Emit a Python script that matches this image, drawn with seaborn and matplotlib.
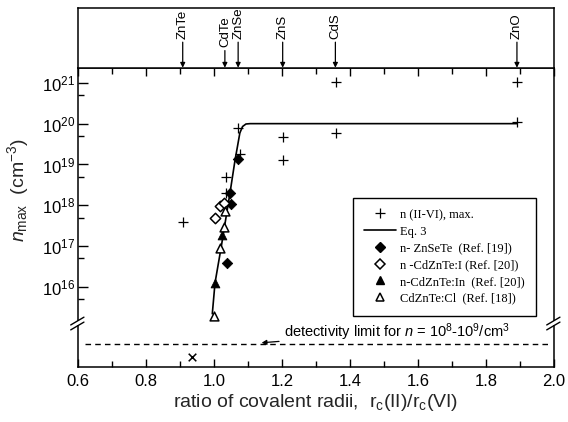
import math
import matplotlib
matplotlib.use("Agg")
import matplotlib.pyplot as plt
import seaborn as sns
from matplotlib.ticker import FixedLocator, FuncFormatter, MultipleLocator, NullFormatter
from matplotlib.lines import Line2D

# ---------------- data ----------------
compounds = ["ZnTe", "CdTe", "ZnSe", "ZnS", "CdS", "ZnO"]
compound_ratio = [0.908, 1.032, 1.071, 1.202, 1.357, 1.891]
compound_text_y = [0.48, 0.34, 0.48, 0.48, 0.48, 0.48]

plus_x = [0.909, 1.034, 1.034, 1.071, 1.076, 1.204, 1.204, 1.358, 1.358, 1.891, 1.891]
plus_n = [3.9e17, 4.9e18, 2.0e18, 7.8e19, 1.8e19, 4.8e19, 1.3e19, 1.07e21, 5.9e19, 1.07e21, 1.1e20]

eq3_x = [0.995, 1.003, 1.021, 1.047, 1.062, 1.069, 1.076, 1.084, 1.094, 1.106, 1.891]
eq3_n = [2.2e15, 1.26e16, 9.3e16, 2.0e18, 1.3e19, 2.75e19, 5.9e19, 8.5e19, 9.8e19, 1.0e20, 1.0e20]

znsete_x = [1.070, 1.047, 1.049, 1.037]
znsete_n = [1.35e19, 2.0e18, 1.07e18, 3.9e16]

cdznte_i_x = [1.017, 1.030, 1.002]
cdznte_i_n = [9.6e17, 1.15e18, 5.0e17]

cdznte_in_x = [1.023, 1.003]
cdznte_in_n = [1.9e17, 1.25e16]

cdznte_cl_x = [1.032, 1.028, 1.019, 1.001]
cdznte_cl_n = [7.2e17, 3.0e17, 9.0e16, 1.9e15]

# below the axis break (not on the log scale)
detect_x = [0.622, 1.99]
detect_level = [4.0e14, 4.0e14]
cross_x = [0.934]
cross_level = [1.95e14]

y_major = [1e16, 1e17, 1e18, 1e19, 1e20, 1e21]
y_minor = [5e15, 5e16, 5e17, 5e18, 5e19, 5e20]
x_ticks = [0.6, 0.8, 1.0, 1.2, 1.4, 1.6, 1.8, 2.0]

# ---------------- style ----------------
sns.set_theme(style="ticks")
plt.rcParams["font.family"] = ["Liberation Sans", "DejaVu Sans"]
plt.rcParams.update({
    "mathtext.fontset": "custom",
    "mathtext.rm": "Liberation Sans",
    "mathtext.it": "Liberation Sans:italic",
    "mathtext.bf": "Liberation Sans:bold",
    "axes.linewidth": 1.1,
    "axes.edgecolor": "black",
    "xtick.color": "black",
    "ytick.color": "black",
    "text.color": "black",
})

fig = plt.figure(figsize=(5.68, 4.22), dpi=100)
W, H = 568.0, 422.0
L, R, B, T = 78, 554, 367, 67.7
ax = fig.add_axes([L / W, (H - B) / H, (R - L) / W, (B - T) / H])
axt = fig.add_axes([L / W, (H - T) / H, (R - L) / W, (T - 7.7) / H], sharex=ax)

# ---------------- marks ----------------
sns.lineplot(x=eq3_x, y=eq3_n, ax=ax, color="black", lw=1.2, sort=False,
             estimator=None, label="Eq. 3", legend=False)
sns.scatterplot(x=plus_x, y=plus_n, ax=ax, marker="+", s=45, color="black",
                linewidth=0.9, label="n (II-VI), max.", legend=False, zorder=3)
sns.scatterplot(x=znsete_x, y=znsete_n, ax=ax, marker="D", s=28, color="black",
                edgecolor="black", linewidth=0.6, legend=False, zorder=4)
sns.scatterplot(x=cdznte_i_x, y=cdznte_i_n, ax=ax, marker="D", s=28, facecolor="white",
                edgecolor="black", linewidth=1.1, legend=False, zorder=4)
sns.scatterplot(x=cdznte_in_x, y=cdznte_in_n, ax=ax, marker="^", s=40, color="black",
                edgecolor="black", linewidth=0.6, legend=False, zorder=4)
sns.scatterplot(x=cdznte_cl_x, y=cdznte_cl_n, ax=ax, marker="^", s=40, facecolor="white",
                edgecolor="black", linewidth=1.1, legend=False, zorder=4)

ax.plot(detect_x, detect_level, color="black", lw=1.0, ls=(0, (4, 3)))
ax.scatter(cross_x, cross_level, marker="x", s=30, color="black", linewidth=1.1)

ax.annotate(r"detectivity limit for $n$ = 10$^8$-10$^9$/cm$^3$",
            xy=(1.14, 4.3e14), xytext=(1.205, 7.8e14), fontsize=10.5,
            ha="left", va="center",
            arrowprops=dict(arrowstyle="-|>", color="black", lw=0.9,
                            mutation_scale=7, shrinkA=1, shrinkB=0))

# ---------------- axes ----------------
ax.set_yscale("log")
ax.set_xlim(0.6, 2.0)
ax.set_ylim(10 ** 14.04, 10 ** 21.37)
ax.xaxis.set_major_locator(FixedLocator(x_ticks))
ax.xaxis.set_minor_locator(MultipleLocator(0.1))
ax.xaxis.set_major_formatter(FuncFormatter(lambda v, p: f"{v:.1f}"))
ax.yaxis.set_major_locator(FixedLocator(y_major))
ax.yaxis.set_minor_locator(FixedLocator(y_minor))
ax.yaxis.set_major_formatter(FuncFormatter(lambda v, p: r"$10^{%d}$" % round(math.log10(v))))
ax.yaxis.set_minor_formatter(NullFormatter())
ax.tick_params(axis="x", which="both", direction="in", top=True, bottom=True,
               labelsize=12, pad=5)
ax.tick_params(axis="x", which="major", length=6, width=1.0)
ax.tick_params(axis="x", which="minor", length=4, width=1.0)
ax.tick_params(axis="y", which="both", direction="in", left=True, right=False,
               labelsize=12, pad=2)
ax.tick_params(axis="y", which="major", length=7, width=1.0)
ax.tick_params(axis="y", which="minor", length=4, width=1.0)
for s in ax.spines.values():
    s.set_visible(True)
    s.set_color("black")

ax.set_xlabel(r"ratio of covalent radii,  r$_{\rm c}$(II)/r$_{\rm c}$(VI)", fontsize=14, labelpad=2)
ax.set_ylabel(r"$n_{\rm max}$  (cm$^{-3}$)", fontsize=14)
ax.yaxis.set_label_coords(-0.098, 0.59)

# axis break marks
for xb in (0.0, 1.0):
    ax.plot([xb, xb], [0.139, 0.1536], transform=ax.transAxes, color="white",
            lw=3, clip_on=False, zorder=10, solid_capstyle="butt")
    for yb in (0.124, 0.1405):
        ax.plot([xb - 0.0153, xb + 0.0125], [yb, yb + 0.026], transform=ax.transAxes,
                color="black", lw=1.0, clip_on=False, zorder=11)

# legend
handles = [
    Line2D([], [], ls="none", marker="+", ms=7, mew=0.9, color="black"),
    Line2D([], [], color="black", lw=1.2),
    Line2D([], [], ls="none", marker="D", ms=5, color="black"),
    Line2D([], [], ls="none", marker="D", ms=5, mfc="white", mec="black", mew=1.1),
    Line2D([], [], ls="none", marker="^", ms=6, color="black"),
    Line2D([], [], ls="none", marker="^", ms=6, mfc="white", mec="black", mew=1.1),
]
labels = ["n (II-VI), max.", "Eq. 3", "n- ZnSeTe  (Ref. [19])",
          "n -CdZnTe:I (Ref. [20])", "n-CdZnTe:In  (Ref. [20])", "CdZnTe:Cl  (Ref. [18])"]
leg = ax.legend(handles, labels, loc="lower right", bbox_to_anchor=(0.962, 0.171),
                prop={"family": "Liberation Serif", "size": 9}, frameon=True,
                fancybox=False, edgecolor="black", framealpha=1, handlelength=2.6,
                handletextpad=0.3, labelspacing=0.38, borderpad=0.9, borderaxespad=0)
leg.get_frame().set_linewidth(1.0)

# ---------------- top panel with compound markers ----------------
axt.set_xlim(0.6, 2.0)
axt.set_ylim(0, 1)
axt.tick_params(axis="both", which="both", length=0, labelbottom=False, labelleft=False)
axt.set_yticks([])
for s in axt.spines.values():
    s.set_visible(True)
    s.set_color("black")
    s.set_linewidth(1.1)
for name, xr, ty in zip(compounds, compound_ratio, compound_text_y):
    axt.annotate(name, xy=(xr, 0.0), xytext=(xr, ty), rotation=90,
                 ha="center", va="bottom", fontsize=9.5,
                 arrowprops=dict(arrowstyle="-|>", color="black", lw=0.9,
                                 mutation_scale=7, shrinkA=0, shrinkB=0))

fig.savefig("out.png", dpi=100)
